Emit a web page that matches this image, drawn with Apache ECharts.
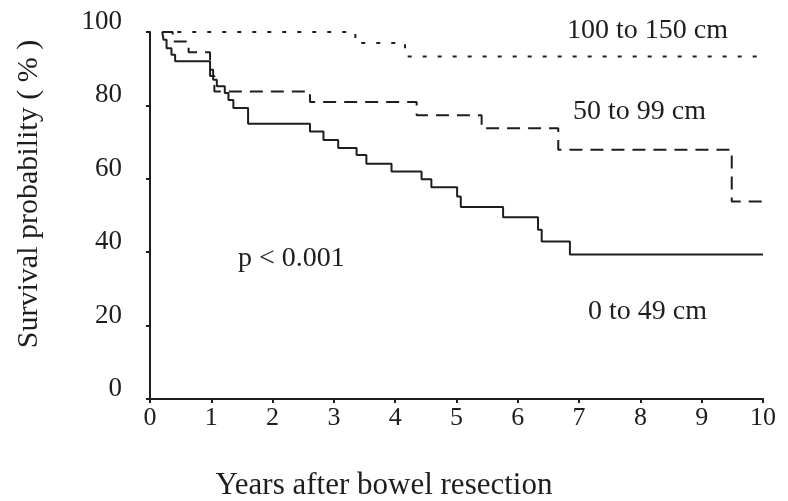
<!DOCTYPE html>
<html>
<head>
<meta charset="utf-8">
<script src="https://cdn.jsdelivr.net/npm/echarts@6/dist/echarts.min.js"></script>
<style>
  html, body { margin: 0; padding: 0; background: #fff; }
  #chart { width: 788px; height: 501px; }
</style>
</head>
<body>
<div id="chart"></div>
<script>
// Kaplan-Meier curves, values
var xTicks = [0, 1, 2, 3, 4, 5, 6, 7, 8, 9, 10];
var yTicks = [0, 20, 40, 60, 80, 100];

// 0 to 49 cm (solid)
var timeShort = [0.2, 0.22, 0.27, 0.35, 0.41, 0.98, 1.03, 1.09, 1.22, 1.28, 1.36, 1.6, 2.61, 2.83, 3.07, 3.37, 3.53, 3.94, 4.43, 4.59, 5.01, 5.07, 5.76, 6.33, 6.39, 6.85, 10];
var survShort = [100, 97.9, 95.6, 93.8, 92.0, 89.7, 87.0, 85.2, 83.4, 81.5, 79.3, 75.0, 72.9, 70.6, 68.4, 66.5, 64.1, 62.0, 59.9, 57.7, 55.2, 52.3, 49.5, 46.1, 42.9, 39.4, 39.4];

// 50 to 99 cm (dashed)
var timeMid = [0.2, 0.37, 0.63, 0.98, 1.05, 2.61, 4.35, 5.41, 6.66, 9.49, 10];
var survMid = [100, 97.4, 94.5, 88.0, 83.8, 80.9, 77.3, 73.8, 67.9, 53.8, 53.8];

// 100 to 150 cm (dotted)
var timeLong = [0.2, 3.35, 4.16, 10];
var survLong = [100, 97.0, 93.3, 93.3];

var seriesNames = ["0 to 49 cm", "50 to 99 cm", "100 to 150 cm"];

function pairs(t, s) {
  return t.map(function (v, i) { return [v, s[i]]; });
}

var ink = "#1e1e1e";
var serif = "Liberation Serif";

var myChart = echarts.init(document.getElementById("chart"));
var option = {
  backgroundColor: "#fff",
  animation: false,
  grid: { left: 150, right: 25, top: 32, bottom: 102 },
  xAxis: {
    type: "value",
    min: xTicks[0],
    max: xTicks[xTicks.length - 1],
    interval: 1,
    splitLine: { show: false },
    axisLine: { onZero: false, lineStyle: { color: ink, width: 2 } },
    axisTick: { length: 4, lineStyle: { color: ink, width: 2 } },
    axisLabel: { color: ink, fontFamily: serif, fontSize: 26, margin: 6 }
  },
  yAxis: {
    type: "value",
    min: yTicks[0],
    max: yTicks[yTicks.length - 1],
    interval: 20,
    splitLine: { show: false },
    axisLine: { lineStyle: { color: ink, width: 2 } },
    axisTick: { length: 4, lineStyle: { color: ink, width: 2 } },
    axisLabel: {
      color: ink, fontFamily: serif, fontSize: 27, margin: 28,
      verticalAlign: "bottom", lineHeight: 20
    }
  },
  series: [
    {
      name: seriesNames[2],
      type: "line",
      step: "end",
      symbol: "none",
      data: pairs(timeLong, survLong),
      lineStyle: { color: ink, width: 2, type: [4, 11] }
    },
    {
      name: seriesNames[1],
      type: "line",
      step: "end",
      symbol: "none",
      data: pairs(timeMid, survMid),
      lineStyle: { color: ink, width: 2, type: [13, 8] }
    },
    {
      name: seriesNames[0],
      type: "line",
      step: "end",
      symbol: "none",
      data: pairs(timeShort, survShort),
      lineStyle: { color: ink, width: 2, type: "solid" }
    }
  ],
  graphic: [
    {
      type: "text", left: 567, top: 17,
      style: { text: "100 to 150 cm", font: "28px " + serif, fill: ink }
    },
    {
      type: "text", left: 573, top: 98,
      style: { text: "50 to 99 cm", font: "28px " + serif, fill: ink }
    },
    {
      type: "text", left: 238, top: 245,
      style: { text: "p < 0.001", font: "28px " + serif, fill: ink }
    },
    {
      type: "text", left: 588, top: 298,
      style: { text: "0 to 49 cm", font: "28px " + serif, fill: ink }
    },
    {
      type: "text", x: 384, y: 486,
      style: {
        text: "Years after bowel resection", font: "31px " + serif, fill: ink,
        align: "center", verticalAlign: "middle"
      }
    },
    {
      type: "text", x: 29, y: 194, rotation: Math.PI / 2,
      style: {
        text: "Survival probability ( % )", font: "30px " + serif, fill: ink,
        align: "center", verticalAlign: "middle"
      }
    }
  ]
};
myChart.setOption(option);
</script>
</body>
</html>
